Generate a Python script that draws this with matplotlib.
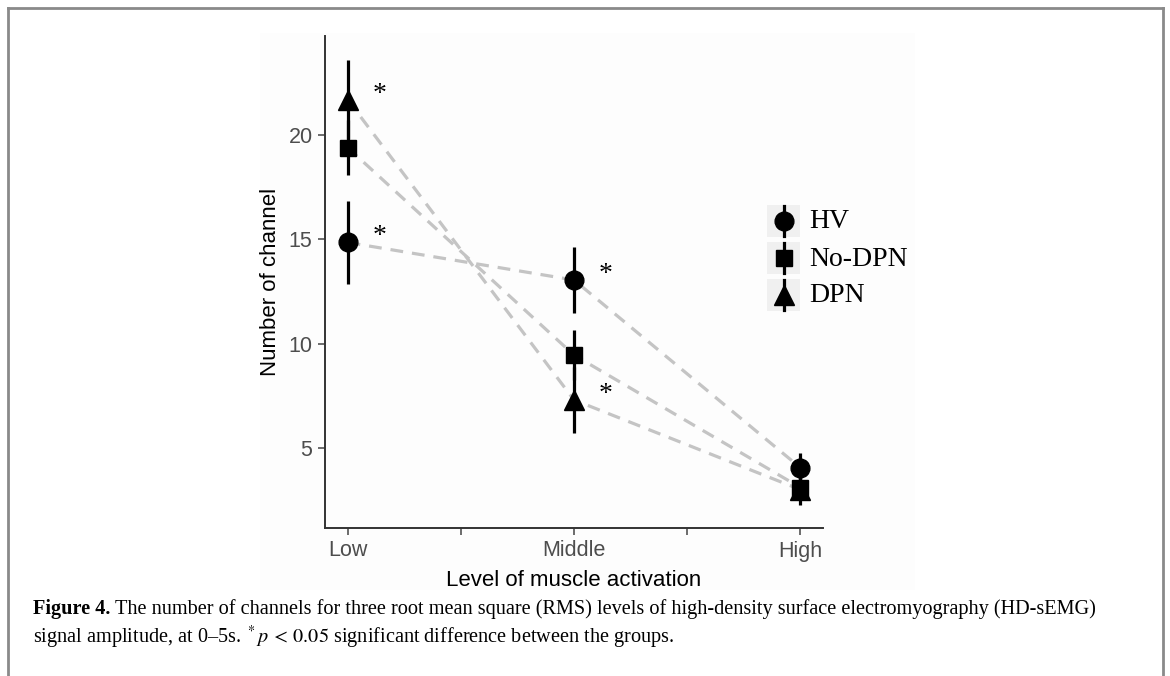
import matplotlib
matplotlib.use('Agg')
from matplotlib import pyplot as plt
from matplotlib.lines import Line2D
from matplotlib.patches import Rectangle

plt.rcParams['font.family'] = ['Liberation Sans', 'DejaVu Sans']
plt.rcParams['mathtext.fontset'] = 'stix'

levels = ['Low', 'Middle', 'High']
level_pos = [1, 2, 3]
groups = ['HV', 'No-DPN', 'DPN']

hv_mean = [14.85, 13.05, 4.05]
hv_err = [2.0, 1.6, 0.7]
nodpn_mean = [19.4, 9.45, 3.1]
nodpn_err = [1.3, 1.2, 0.6]
dpn_mean = [21.7, 7.3, 3.0]
dpn_err = [1.9, 1.6, 0.75]

# * p < 0.05 marks per level
hv_sig = [True, True, False]
nodpn_sig = [False, False, False]
dpn_sig = [True, True, False]

W, H = 1170, 676
SERIF = ['Liberation Serif', 'DejaVu Serif']


def fx(px):
    return px / W


def fy(py):
    return 1 - py / H


fig = plt.figure(figsize=(W / 100, H / 100), dpi=100)

# faint panel behind the plot, and the page frame
fig.add_artist(Rectangle((fx(260), fy(590)), fx(915) - fx(260), fy(33) - fy(590),
                         transform=fig.transFigure, facecolor='#fdfdfd', edgecolor='none', zorder=0))
frame = dict(transform=fig.transFigure, color='#8a8a8a', lw=2)
fig.add_artist(Line2D([fx(8), fx(8)], [fy(8), 0], **frame))
fig.add_artist(Line2D([fx(1163), fx(1163)], [fy(8), 0], **frame))
fig.add_artist(Line2D([fx(8), fx(1163)], [fy(8), fy(8)], **frame))

ax = fig.add_axes([fx(325), fy(528), fx(823) - fx(325), fy(36) - fy(528)])
ax.patch.set_alpha(0)

series = [
    (hv_mean, hv_err, hv_sig, 'o', 13.5),
    (nodpn_mean, nodpn_err, nodpn_sig, 's', 12),
    (dpn_mean, dpn_err, dpn_sig, '^', 14),
]

for mean, err, sig, marker, ms in series:
    ax.plot(level_pos, mean, color='#c4c4c4', lw=2.3, dashes=(4, 2.8), zorder=1)
for mean, err, sig, marker, ms in series:
    ax.errorbar(level_pos, mean, yerr=err, fmt=marker, color='black', ms=ms,
                elinewidth=2.3, capsize=0, zorder=3)
    for x, y, s in zip(level_pos, mean, sig):
        if s:
            ax.annotate('*', (x, y), xytext=(23, 4), textcoords='offset points',
                        ha='center', va='center', fontsize=20, family=SERIF)

ax.set_xlim(0.9, 3.1)
ax.set_ylim(1.16, 24.75)
ax.set_xticks([1, 1.5, 2, 2.5, 3])
ax.set_xticklabels(['Low', '', 'Middle', '', 'High'])
ax.set_yticks([5, 10, 15, 20])
for side in ['top', 'right']:
    ax.spines[side].set_visible(False)
for side in ['left', 'bottom']:
    ax.spines[side].set_color('#333333')
    ax.spines[side].set_linewidth(1.4)
ax.tick_params(color='#444444', length=5, width=1.1, labelcolor='#4d4d4d', labelsize=15.5, pad=4)
ax.set_xlabel('Level of muscle activation', fontsize=16, labelpad=6)
ax.set_ylabel('Number of channel', fontsize=16, labelpad=5)

# legend
leg_y = [221, 258, 295]
for label, (mean, err, sig, marker, ms), py in zip(groups, series, leg_y):
    fig.add_artist(Rectangle((fx(767), fy(py + 16)), fx(33), 32 / H, transform=fig.transFigure,
                             facecolor='#f0f0f0', edgecolor='none'))
    fig.add_artist(Line2D([fx(784), fx(784)], [fy(py + 15), fy(py - 15)], transform=fig.transFigure,
                          color='black', lw=2.3))
    fig.add_artist(Line2D([fx(784)], [fy(py)], transform=fig.transFigure, color='black',
                          marker=marker, ms=ms, ls='none'))
    fig.text(fx(809), fy(py + 1), label, family=SERIF, fontsize=20, va='center', ha='left')

# caption
cap_kw = dict(family=SERIF, fontsize=14.6, va='center', ha='left')
t = fig.text(fx(33), fy(609), 'Figure 4.', weight='bold', **cap_kw)
renderer = fig.canvas.get_renderer()
bb = t.get_window_extent(renderer)
fig.text(fx(bb.x1 + 5), fy(609),
         'The number of channels for three root mean square (RMS) levels of high-density surface '
         'electromyography (HD-sEMG)', **cap_kw)
fig.text(fx(33), fy(637),
         r'signal amplitude, at 0–5s. $^*p\,<\,0.05$ significant difference between the groups.', **cap_kw)

fig.savefig('out.png', dpi=100)
